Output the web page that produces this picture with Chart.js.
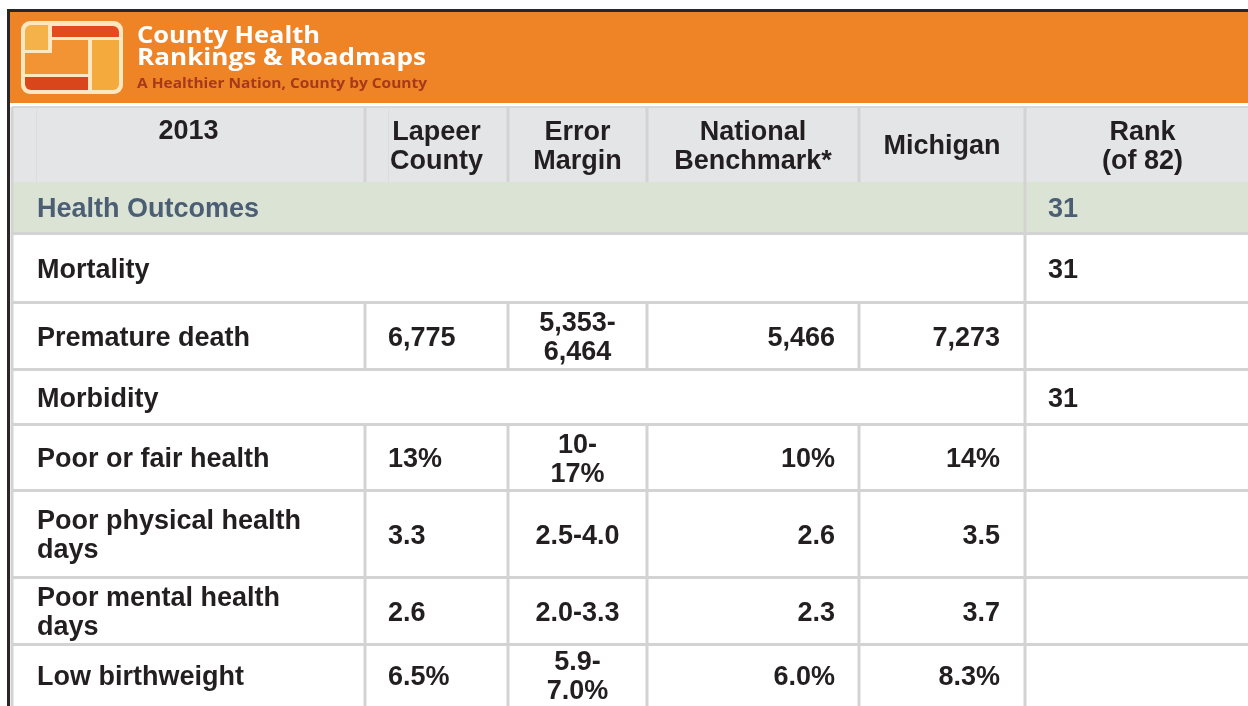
<!DOCTYPE html>
<html>
<head>
<meta charset="utf-8">
<title>County Health Rankings 2013 - Lapeer County</title>
<script src="https://cdn.jsdelivr.net/npm/chart.js@4/dist/chart.umd.min.js"></script>
<style>
    html, body { margin: 0; padding: 0; background: #fff; }
    #wrap { width: 1248px; height: 706px; overflow: hidden; }
</style>
</head>
<body>
<div id="wrap"><canvas id="tbl" width="1248" height="706"></canvas></div>
<script>
// ---- data ----
var col_headers = [['2013'], ['Lapeer', 'County'], ['Error', 'Margin'], ['National', 'Benchmark*'], ['Michigan'], ['Rank', '(of 82)']];
var row_labels = ['Health Outcomes', 'Mortality', 'Premature death', 'Morbidity', 'Poor or fair health',
    ['Poor physical health', 'days'], ['Poor mental health', 'days'], 'Low birthweight'];
var row_types = ['outcome', 'section', 'measure', 'section', 'measure', 'measure', 'measure', 'measure'];
var lapeer = [null, null, '6,775', null, '13%', '3.3', '2.6', '6.5%'];
var error_margin = [null, null, ['5,353-', '6,464'], null, ['10-', '17%'], '2.5-4.0', '2.0-3.3', ['5.9-', '7.0%']];
var national = [null, null, '5,466', null, '10%', '2.6', '2.3', '6.0%'];
var michigan = [null, null, '7,273', null, '14%', '3.5', '3.7', '8.3%'];
var rank = ['31', '31', null, '31', null, null, null, null];

// ---- layout (page units, mapped through the chart scales) ----
var col_edges = [12, 365, 508, 647, 859, 1025, 1260];
var header_box = [107, 182];
var row_edges = [[182, 232], [235, 301], [304, 368], [371, 423], [426, 489], [492, 576], [579, 643], [646, 704]];
var line_ys = [233.5, 302.5, 369.5, 424.5, 490.5, 577.5, 644.5];

var FONT = 'bold 27px "Liberation Sans", Arial, sans-serif';
var INK = '#231f20';
var GRID = '#d3d3d3';

function lines_of(v){ return Array.isArray(v) ? v : [v]; }

function draw_cell_text(ctx, sx, sy, val, x0, x1, yc, align, pad, color){
    var ls = lines_of(val);
    var lh = 29;
    ctx.fillStyle = color || INK;
    ctx.font = FONT;
    ctx.textAlign = align;
    ctx.textBaseline = 'alphabetic';
    var first = yc + 9.5 - (ls.length - 1) * lh / 2;
    for(var i = 0; i < ls.length; i++){
        var tx;
        if(align == 'left') tx = x0 + pad;
        else if(align == 'right') tx = x1 - pad;
        else tx = (x0 + x1) / 2;
        ctx.fillText(ls[i], sx(tx), sy(first + i * lh));
    }
}

function fit_text(ctx, txt, x, y, w){
    var m = ctx.measureText(txt).width;
    ctx.save();
    ctx.translate(x, y);
    ctx.scale(w / m, 1);
    ctx.textAlign = 'left';
    ctx.fillText(txt, 0, 0);
    ctx.restore();
}

function rrect(ctx, x, y, w, h, r, fill){
    ctx.beginPath();
    ctx.roundRect(x, y, w, h, r);
    ctx.fillStyle = fill;
    ctx.fill();
}

var tablePlugin = {
    id: 'countyTable',
    afterDraw: function(chart){
        var ctx = chart.ctx;
        var sx = function(v){ return chart.scales.x.getPixelForValue(v); };
        var sy = function(v){ return chart.scales.y.getPixelForValue(v); };
        ctx.save();

        // frame + banner
        ctx.fillStyle = '#ef8427';
        ctx.fillRect(sx(10), sy(12), sx(1248) - sx(10), sy(103) - sy(12));
        ctx.fillStyle = '#2a2627';
        ctx.fillRect(sx(7), sy(9), sx(1248) - sx(7), 3);
        ctx.fillRect(sx(7), sy(9), 3, sy(706) - sy(9));

        // logo
        rrect(ctx, sx(21), sy(21), 102, 73, 9, '#fde7c0');
        rrect(ctx, sx(25), sy(25), 23, 25, [6, 0, 0, 0], '#f6b24a');
        rrect(ctx, sx(52), sy(26), 67, 11, [0, 6, 0, 0], '#e34b1f');
        ctx.fillStyle = '#f29433';
        ctx.fillRect(sx(25), sy(53), 63, 21);
        ctx.fillRect(sx(52), sy(40), 36, 14);
        rrect(ctx, sx(92), sy(40), 27, 50, [0, 0, 6, 0], '#f5aa3e');
        rrect(ctx, sx(25), sy(77), 63, 13, [0, 0, 0, 6], '#d9461c');

        // banner text
        ctx.fillStyle = '#ffffff';
        ctx.font = 'bold 24px "Open Sans", sans-serif';
        ctx.textBaseline = 'alphabetic';
        fit_text(ctx, 'County Health', sx(137), sy(43), 183);
        fit_text(ctx, 'Rankings & Roadmaps', sx(137), sy(65), 289);
        ctx.fillStyle = '#a5391a';
        ctx.font = 'bold 14px "Open Sans", sans-serif';
        fit_text(ctx, 'A Healthier Nation, County by County', sx(137), sy(88), 290);

        var xL = sx(col_edges[0]), xR = sx(col_edges[col_edges.length - 1]);

        // header row
        ctx.fillStyle = '#e4e5e7';
        ctx.fillRect(xL, sy(header_box[0]), xR - xL, sy(header_box[1]) - sy(header_box[0]));
        ctx.fillStyle = '#d6d7d9';
        ctx.fillRect(xL, sy(header_box[0]) - 1, xR - xL, 2);

        // outcome row
        ctx.fillStyle = '#dbe3d4';
        ctx.fillRect(xL, sy(row_edges[0][0]), xR - xL, sy(row_edges[0][1]) - sy(row_edges[0][0]));

        // horizontal grid
        ctx.fillStyle = GRID;
        line_ys.forEach(function(y){
            ctx.fillRect(xL, sy(y) - 1.5, xR - xL, 3);
        });

        // vertical grid
        function vline(x, y0, y1, col){
            ctx.fillStyle = col || GRID;
            ctx.fillRect(sx(x) - 1.5, sy(y0), 3, sy(y1) - sy(y0));
        }
        vline(col_edges[0], header_box[0], 706);
        for(var c = 1; c < col_edges.length - 1; c++){
            vline(col_edges[c], header_box[0], header_box[1]);
        }
        vline(col_edges[5], header_box[1], 706);
        ctx.fillStyle = '#dcdde0';
        ctx.fillRect(sx(36), sy(header_box[0]), 1, sy(header_box[1]) - sy(header_box[0]));
        ctx.fillRect(sx(388), sy(header_box[0]), 1, sy(header_box[1]) - sy(header_box[0]));
        for(var r = 0; r < row_types.length; r++){
            if(row_types[r] != 'measure') continue;
            var re = row_edges[r];
            for(var k = 1; k < 5; k++) vline(col_edges[k], re[0] - 2, re[1] + 2);
        }

        // header text: the year sits on the first line, the others are centred
        for(var h = 0; h < col_headers.length; h++){
            var yc = (h == 0) ? 129.5 : 144.5;
            draw_cell_text(ctx, sx, sy, col_headers[h], col_edges[h], col_edges[h + 1], yc, 'center', 0);
        }

        // rows
        for(var i = 0; i < row_labels.length; i++){
            var e = row_edges[i];
            var mid = (e[0] + e[1]) / 2;
            var col = (row_types[i] == 'outcome') ? '#4b5e74' : INK;
            draw_cell_text(ctx, sx, sy, row_labels[i], col_edges[0], col_edges[1], mid, 'left', 25, col);
            if(lapeer[i] != null) draw_cell_text(ctx, sx, sy, lapeer[i], col_edges[1], col_edges[2], mid, 'left', 23);
            if(error_margin[i] != null) draw_cell_text(ctx, sx, sy, error_margin[i], col_edges[2], col_edges[3], mid, 'center', 0);
            if(national[i] != null) draw_cell_text(ctx, sx, sy, national[i], col_edges[3], col_edges[4], mid, 'right', 24);
            if(michigan[i] != null) draw_cell_text(ctx, sx, sy, michigan[i], col_edges[4], col_edges[5], mid, 'right', 25);
            if(rank[i] != null) draw_cell_text(ctx, sx, sy, rank[i], col_edges[5], col_edges[6], mid, 'left', 23, col);
        }
        ctx.restore();
    }
};

var ctx = document.getElementById('tbl');
new Chart(ctx, {
    type: 'scatter',
    data: {
        labels: row_labels.map(function(l){ return Array.isArray(l) ? l.join(' ') : l; }),
        datasets: [{ data: [], pointRadius: 0 }]
    },
    options: {
        responsive: false,
        animation: false,
        devicePixelRatio: 1,
        layout: { padding: 0 },
        scales: {
            x: { type: 'linear', min: 0, max: 1248, display: false },
            y: { type: 'linear', min: 0, max: 706, reverse: true, display: false }
        },
        plugins: {
            legend: { display: false },
            tooltip: { enabled: false },
            title: { display: false }
        }
    },
    plugins: [tablePlugin]
});
</script>
</body>
</html>
